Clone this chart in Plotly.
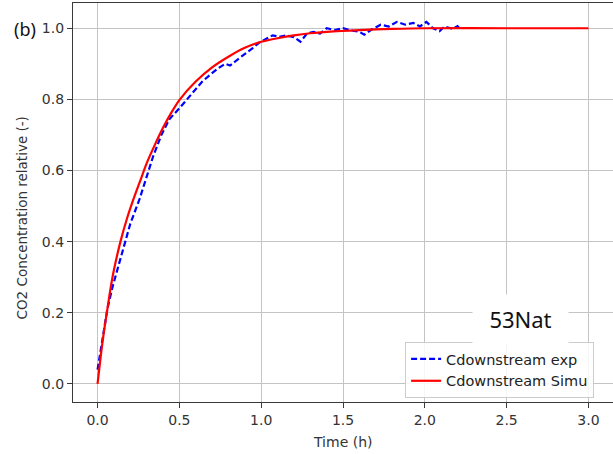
import plotly.graph_objects as go

# Simulation curve (red)
t_simu = [0.0, 0.02, 0.04, 0.06, 0.08, 0.10, 0.14, 0.18, 0.22, 0.26, 0.30, 0.35, 0.40, 0.45,
          0.50, 0.60, 0.70, 0.80, 0.90, 1.00, 1.10, 1.20, 1.30, 1.40, 1.60, 1.80, 2.00, 2.50, 3.00]
c_simu = [0.0, 0.08, 0.15, 0.21, 0.27, 0.32, 0.40, 0.465, 0.52, 0.57, 0.62, 0.672, 0.72, 0.762,
          0.798, 0.85, 0.89, 0.92, 0.945, 0.962, 0.972, 0.98, 0.986, 0.99, 0.995, 0.998, 1.0, 1.0, 1.0]

# Experimental data (blue dashed)
t_exp = [0.0, 0.03, 0.06, 0.09, 0.12, 0.16, 0.20, 0.257, 0.31, 0.34, 0.39, 0.44, 0.50, 0.545,
         0.60, 0.64, 0.69, 0.73, 0.78, 0.81, 0.85, 0.91, 0.95, 0.99, 1.03, 1.07, 1.11, 1.15,
         1.20, 1.24, 1.28, 1.32, 1.36, 1.40, 1.45, 1.50, 1.56, 1.60, 1.63, 1.67, 1.73, 1.78,
         1.83, 1.88, 1.93, 1.97, 2.01, 2.05, 2.09, 2.12, 2.17, 2.20, 2.22]
c_exp = [0.04, 0.13, 0.21, 0.27, 0.32, 0.39, 0.45, 0.52, 0.60, 0.64, 0.70, 0.745, 0.775, 0.80,
         0.83, 0.85, 0.87, 0.885, 0.90, 0.895, 0.91, 0.93, 0.945, 0.96, 0.97, 0.98, 0.976, 0.98,
         0.975, 0.962, 0.985, 0.99, 0.985, 1.0, 0.995, 1.0, 0.993, 0.99, 0.982, 0.995, 1.01, 1.005,
         1.018, 1.01, 1.015, 1.005, 1.018, 1.0, 0.992, 1.005, 0.998, 1.006, 0.995]

x_ticks = [0.0, 0.5, 1.0, 1.5, 2.0, 2.5, 3.0]
y_ticks = [0.0, 0.2, 0.4, 0.6, 0.8, 1.0]

fig = go.Figure()
fig.add_trace(go.Scatter(x=t_exp, y=c_exp, mode="lines", name="Cdownstream exp",
                         line=dict(color="#0000ff", width=2.2, dash="6px,3px")))
fig.add_trace(go.Scatter(x=t_simu, y=c_simu, mode="lines", name="Cdownstream Simu",
                         line=dict(color="#ff0000", width=2.2, shape="spline", smoothing=0.8)))

font_main = "DejaVu Sans"
axis_common = dict(showgrid=True, gridcolor="#c4c4c4", gridwidth=1.3, zeroline=False,
                   showline=True, linecolor="#3a3a3a", linewidth=1.3,
                   ticks="outside", ticklen=5, tickwidth=1.2, tickcolor="#3a3a3a",
                   tickfont=dict(family=font_main, size=14, color="#333333"))

fig.update_layout(
    width=613, height=454,
    margin=dict(l=73, r=0, t=3, b=52),
    paper_bgcolor="white", plot_bgcolor="white",
    showlegend=True,
    legend=dict(x=0.965, y=0.01, xanchor="right", yanchor="bottom",
                bgcolor="rgba(255,255,255,0.85)", bordercolor="#cccccc", borderwidth=1,
                font=dict(family=font_main, size=14.5, color="#222222")),
    xaxis=dict(range=[-0.15, 3.15], tickvals=x_ticks, ticktext=[f"{v:.1f}" for v in x_ticks],
               mirror=True, **axis_common),
    yaxis=dict(range=[-0.051, 1.071], tickvals=y_ticks, ticktext=[f"{v:.1f}" for v in y_ticks],
               **axis_common),
)

fig.add_annotation(text="Time (h)", xref="paper", yref="paper", x=0.5, y=0,
                   yshift=-40, showarrow=False, yanchor="middle",
                   font=dict(family=font_main, size=14, color="#333333"))
fig.add_annotation(text="CO2 Concentration relative (-)", xref="paper", yref="paper",
                   x=0, xshift=-51, y=0.46, textangle=-90, showarrow=False,
                   xanchor="center", yanchor="middle",
                   font=dict(family=font_main, size=13.5, color="#333333"))
fig.add_annotation(text="(b)", xref="paper", yref="paper", x=0, xshift=-61,
                   y=1, yshift=-26, showarrow=False, xanchor="left", yanchor="middle",
                   font=dict(family="Noto Sans", size=18, color="#111111"))
fig.add_annotation(text="53Nat", xref="paper", yref="paper", x=(520 - 73) / 540,
                   y=(402 - 319) / 399, showarrow=False, xanchor="center", yanchor="middle",
                   width=95, height=48, bgcolor="white", borderpad=0,
                   font=dict(family="Noto Sans", size=22, color="#111111"))

fig.write_html("out.html", config={"displayModeBar": False},
               post_script="document.body.style.margin='0';document.body.style.padding='0';")
